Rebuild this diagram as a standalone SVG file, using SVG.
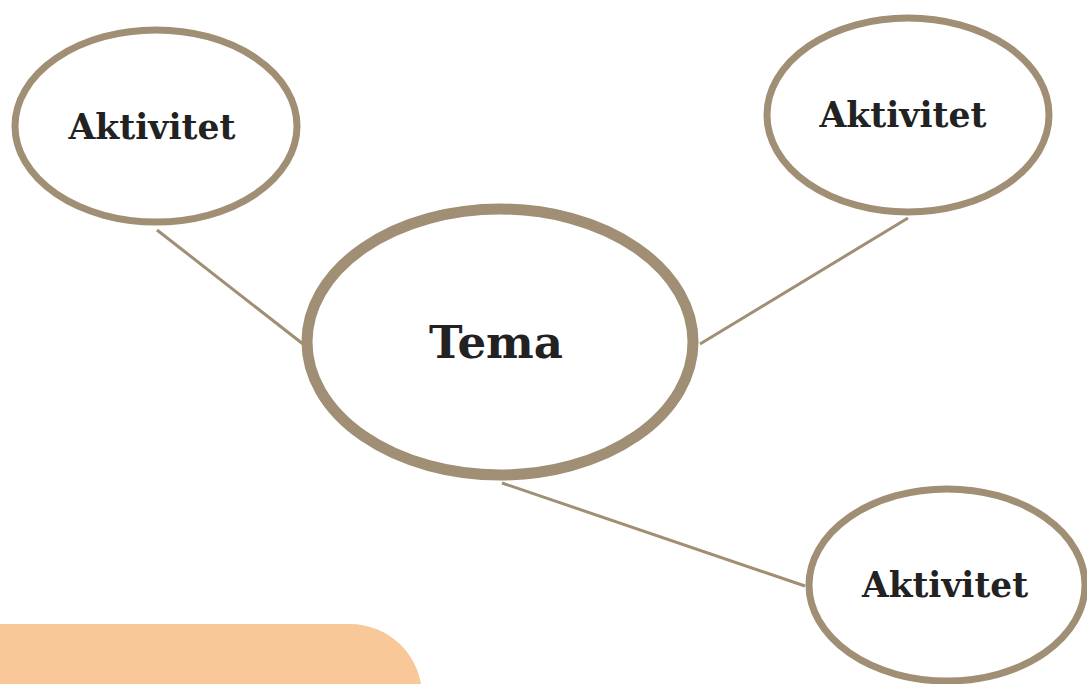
<svg xmlns="http://www.w3.org/2000/svg" width="1087" height="684" viewBox="0 0 1087 684">
<style>
.node{fill:#ffffff;stroke:#a08f74;stroke-width:7}
.main{stroke-width:11}
.edge{stroke:#a08f74;stroke-width:3;fill:none}
.lbl{font-family:"DejaVu Serif",serif;font-weight:bold;font-size:36px;fill:#222222;text-anchor:middle}
.big{font-size:45px}
</style>
<rect width="1087" height="684" fill="#ffffff"/>
<path d="M0 624 H350 A72 72 0 0 1 422 696 V684 H0 Z" fill="#f8c898"/>
<g id="connectors">
<line class="edge" x1="157" y1="230" x2="303" y2="344"/>
<line class="edge" x1="700" y1="344" x2="908" y2="218"/>
<line class="edge" x1="502" y1="483" x2="805" y2="586"/>
</g>
<g id="node-tema">
<ellipse class="node main" cx="500" cy="342" rx="193" ry="133"/>
<text class="lbl big" x="496" y="358" textLength="134" lengthAdjust="spacingAndGlyphs">Tema</text>
</g>
<g id="node-aktivitet-1">
<ellipse class="node" cx="156" cy="126" rx="141" ry="96"/>
<text class="lbl" x="152" y="139" textLength="167" lengthAdjust="spacingAndGlyphs">Aktivitet</text>
</g>
<g id="node-aktivitet-2">
<ellipse class="node" cx="908" cy="115" rx="141" ry="97"/>
<text class="lbl" x="903" y="127" textLength="167" lengthAdjust="spacingAndGlyphs">Aktivitet</text>
</g>
<g id="node-aktivitet-3">
<ellipse class="node" cx="947" cy="585" rx="138" ry="96"/>
<text class="lbl" x="945" y="597" textLength="166" lengthAdjust="spacingAndGlyphs">Aktivitet</text>
</g>
</svg>
